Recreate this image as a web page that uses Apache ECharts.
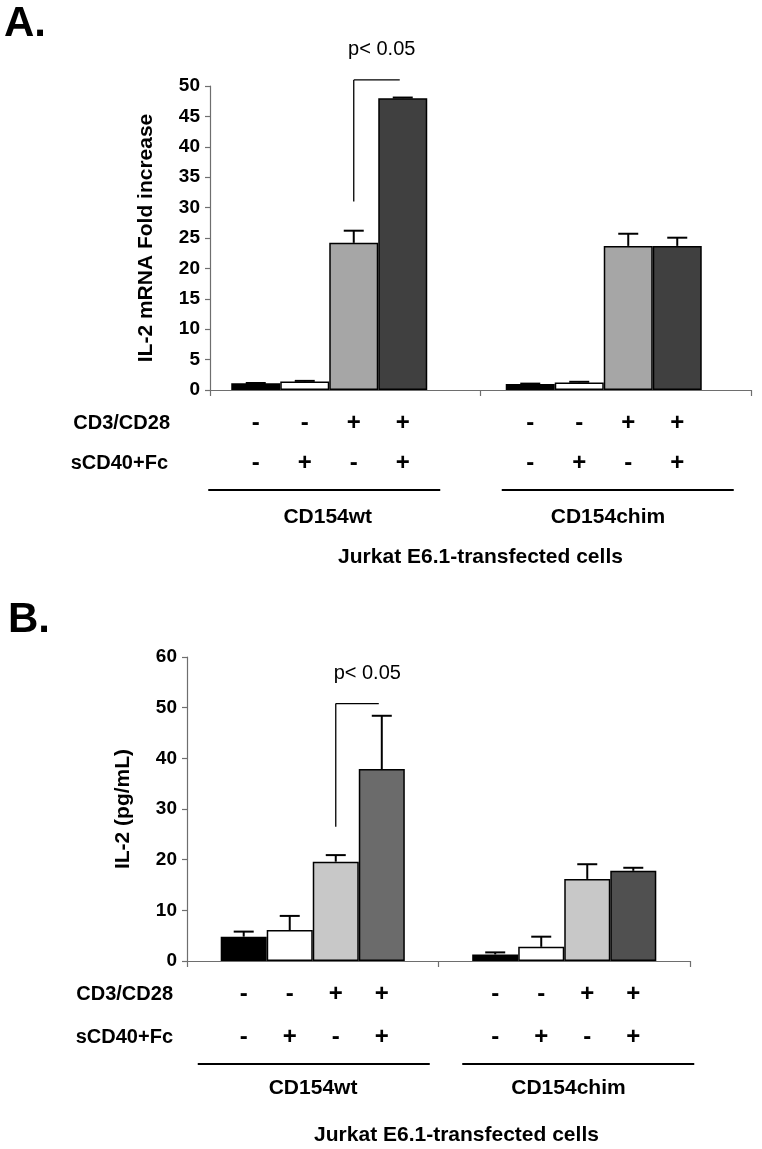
<!DOCTYPE html>
<html>
<head>
<meta charset="utf-8">
<script src="https://cdn.jsdelivr.net/npm/echarts@6/dist/echarts.min.js"></script>
<style>
html,body{margin:0;padding:0;background:#fff;}
#chart{width:762px;height:1149px;}
</style>
</head>
<body>
<div id="chart"></div>
<script>
// ---- data ----
const groups = ['CD154wt', 'CD154chim'];
const cd3Signs = ['-', '-', '+', '+'];
const sCD40Signs = ['-', '+', '-', '+'];
const rowLabels = ['CD3/CD28', 'sCD40+Fc'];
const xTitle = 'Jurkat E6.1-transfected cells';

// Panel A: IL-2 mRNA fold increase (mean per group), SD (upper error)
const mrnaNeg = [1.1, 1.0];
const mrnaSCD40 = [1.4, 1.25];
const mrnaCD3 = [24.2, 23.7];
const mrnaBoth = [48.0, 23.7];
const mrnaNegSD = [0.05, 0.05];
const mrnaSCD40SD = [0.1, 0.1];
const mrnaCD3SD = [2.0, 2.0];
const mrnaBothSD = [0.1, 1.35];
const bracketA = [31, 51];
const pLevelA = 56;
const yTicksA = [0, 50, 5];

// Panel B: IL-2 pg/mL
const il2Neg = [4.8, 1.3];
const il2SCD40 = [6.1, 2.8];
const il2CD3 = [19.6, 16.2];
const il2Both = [37.9, 17.8];
const il2NegSD = [1.0, 0.4];
const il2SCD40SD = [2.8, 2.0];
const il2CD3SD = [1.3, 2.9];
const il2BothSD = [10.5, 0.6];
const bracketB = [26.5, 50.8];
const pLevelB = 56.8;
const yTicksB = [0, 60, 10];

const pText = 'p< 0.05';

// ---- styles ----
const FONT = '"Liberation Sans", Arial, Helvetica, sans-serif';
const gapA = 0.286, gapB = 0.268;
const colorsA = ['#000000', '#ffffff', '#a6a6a6', '#404040'];
const colorsB = ['#000000', '#ffffff', '#c8c8c8', '#6b6b6b'];
const colorBchimDark = '#505050';

function barSeries(vals, color, xi, yi, gap, perItemColors) {
  return {
    type: 'bar', xAxisIndex: xi, yAxisIndex: yi,
    barGap: '0%', barCategoryGap: (gap * 100) + '%',
    data: vals.map((v, i) => perItemColors && perItemColors[i]
      ? {value: v, itemStyle: {color: perItemColors[i]}} : v),
    itemStyle: {color: color, borderColor: '#000', borderWidth: 1.5},
    emphasis: {disabled: true}, silent: true, z: 2
  };
}

function errData(means, sds) {
  const out = [];
  means.forEach((m, s) => m.forEach((v, g) => out.push([g, s, v, v + sds[s][g]])));
  return out;
}

function errSeries(data, xi, yi, gap) {
  return {
    type: 'custom', xAxisIndex: xi, yAxisIndex: yi, silent: true, z: 5,
    data: data,
    renderItem: function (params, api) {
      const g = api.value(0), s = api.value(1);
      const band = api.size([1, 0])[0];
      const barW = band * (1 - gap) / 4;
      const p0 = api.coord([g, api.value(2)]);
      const p1 = api.coord([g, api.value(3)]);
      const x = p0[0] + (s - 1.5) * barW;
      const st = {stroke: '#000', lineWidth: 2};
      return {type: 'group', children: [
        {type: 'line', shape: {x1: x, y1: p0[1], x2: x, y2: p1[1]}, style: st},
        {type: 'line', shape: {x1: x - 10, y1: p1[1], x2: x + 10, y2: p1[1]}, style: st}
      ]};
    }
  };
}

function bracketSeries(br, pLevel, xi, yi, gap, textShift) {
  return {
    type: 'custom', xAxisIndex: xi, yAxisIndex: yi, silent: true, z: 6,
    data: [[0, br[0], br[1], pLevel]],
    renderItem: function (params, api) {
      const g = api.value(0);
      const band = api.size([1, 0])[0];
      const barW = band * (1 - gap) / 4;
      const lo = api.coord([g, api.value(1)]);
      const hi = api.coord([g, api.value(2)]);
      const pt = api.coord([g, api.value(3)]);
      const xa = lo[0] + 0.5 * barW;
      const xb = lo[0] + 1.5 * barW - 3;
      const st = {stroke: '#000', lineWidth: 1.3};
      return {type: 'group', children: [
        {type: 'line', shape: {x1: xa, y1: lo[1], x2: xa, y2: hi[1]}, style: st},
        {type: 'line', shape: {x1: xa, y1: hi[1], x2: xb, y2: hi[1]}, style: st},
        {type: 'text', x: (xa + xb) / 2 + textShift, y: pt[1],
          style: {text: pText, fill: '#000', font: '20px ' + FONT,
            align: 'center', verticalAlign: 'middle', textAlign: 'center', textVerticalAlign: 'middle'}}
      ]};
    }
  };
}

function decoSeries(xi, yi, gap, rows, lineShift, lineHalf) {
  return {
    type: 'custom', xAxisIndex: xi, yAxisIndex: yi, silent: true, z: 6, clip: false,
    data: groups.map((g, i) => [i, 0]),
    renderItem: function (params, api) {
      const g = api.value(0);
      const base = api.coord([g, 0]);
      const band = api.size([1, 0])[0];
      const barW = band * (1 - gap) / 4;
      const ch = [];
      const signFont = 'bold 24px ' + FONT;
      for (let s = 0; s < 4; s++) {
        const x = base[0] + (s - 1.5) * barW;
        ch.push({type: 'text', x: x, y: base[1] + rows[0], style: {text: cd3Signs[s], fill: '#000', font: signFont,
          align: 'center', verticalAlign: 'middle', textAlign: 'center', textVerticalAlign: 'middle'}});
        ch.push({type: 'text', x: x, y: base[1] + rows[1], style: {text: sCD40Signs[s], fill: '#000', font: signFont,
          align: 'center', verticalAlign: 'middle', textAlign: 'center', textVerticalAlign: 'middle'}});
      }
      const cx = base[0] + lineShift[g];
      ch.push({type: 'line', shape: {x1: cx - lineHalf, y1: base[1] + rows[2], x2: cx + lineHalf, y2: base[1] + rows[2]},
        style: {stroke: '#000', lineWidth: 2}});
      ch.push({type: 'text', x: base[0] + lineShift[g] * 0.3, y: base[1] + rows[3], style: {text: groups[g], fill: '#000',
        font: 'bold 21px ' + FONT, align: 'center', verticalAlign: 'middle', textAlign: 'center', textVerticalAlign: 'middle'}});
      return {type: 'group', children: ch};
    }
  };
}

const axisGray = '#6e6e6e';
function valueAxis(gi, ticks, name, nameGap, show) {
  return {
    gridIndex: gi, type: 'value', min: ticks[0], max: ticks[1], interval: ticks[2],
    show: show,
    axisLine: {show: true, lineStyle: {color: axisGray, width: 1.2}},
    axisTick: {show: true, inside: false, length: 5, lineStyle: {color: axisGray, width: 1.2}},
    axisLabel: {color: '#000', fontFamily: FONT, fontWeight: 'bold', fontSize: 19, margin: 10},
    splitLine: {show: false},
    name: name, nameLocation: 'middle', nameRotate: 90, nameGap: nameGap,
    nameTextStyle: {color: '#000', fontFamily: FONT, fontWeight: 'bold', fontSize: 21}
  };
}

const chart = echarts.init(document.getElementById('chart'), null, {renderer: 'canvas'});
const option = {
  backgroundColor: '#fff',
  animation: false,
  grid: [
    {left: 192, top: 86, width: 549, height: 304, outerBoundsMode: 'none', containLabel: false},
    {left: 210, top: 86, width: 541, height: 304, outerBoundsMode: 'none', containLabel: false},
    {left: 187, top: 657, width: 503, height: 304, outerBoundsMode: 'none', containLabel: false}
  ],
  xAxis: [
    {gridIndex: 0, type: 'category', data: groups, show: false},
    {gridIndex: 1, type: 'category', data: groups,
      axisLine: {show: true, lineStyle: {color: axisGray, width: 1.2}},
      axisTick: {show: true, length: 6, lineStyle: {color: axisGray, width: 1.2}},
      axisLabel: {show: false},
      name: xTitle, nameLocation: 'middle', nameGap: 157,
      nameTextStyle: {color: '#000', fontFamily: FONT, fontWeight: 'bold', fontSize: 21}},
    {gridIndex: 2, type: 'category', data: groups,
      axisLine: {show: true, lineStyle: {color: axisGray, width: 1.2}},
      axisTick: {show: true, length: 6, lineStyle: {color: axisGray, width: 1.2}},
      axisLabel: {show: false},
      name: xTitle, nameLocation: 'middle', nameGap: 164,
      nameTextStyle: {color: '#000', fontFamily: FONT, fontWeight: 'bold', fontSize: 21, padding: [0, 0, 0, 36]}}
  ],
  yAxis: [
    valueAxis(0, yTicksA, '', 0, false),
    valueAxis(1, yTicksA, 'IL-2 mRNA Fold increase', 53, true),
    valueAxis(2, yTicksB, 'IL-2 (pg/mL)', 53, true)
  ],
  graphic: [
    {type: 'text', left: 4, top: 3, style: {text: 'A.', fill: '#000', font: 'bold 42px ' + FONT}},
    {type: 'text', left: 8, top: 599, style: {text: 'B.', fill: '#000', font: 'bold 42px ' + FONT}},
    {type: 'text', x: 170, y: 423, style: {text: rowLabels[0], fill: '#000', font: 'bold 20px ' + FONT, align: 'right', verticalAlign: 'middle', textAlign: 'right', textVerticalAlign: 'middle'}},
    {type: 'text', x: 168, y: 463, style: {text: rowLabels[1], fill: '#000', font: 'bold 20px ' + FONT, align: 'right', verticalAlign: 'middle', textAlign: 'right', textVerticalAlign: 'middle'}},
    {type: 'text', x: 173, y: 994, style: {text: rowLabels[0], fill: '#000', font: 'bold 20px ' + FONT, align: 'right', verticalAlign: 'middle', textAlign: 'right', textVerticalAlign: 'middle'}},
    {type: 'text', x: 173, y: 1037, style: {text: rowLabels[1], fill: '#000', font: 'bold 20px ' + FONT, align: 'right', verticalAlign: 'middle', textAlign: 'right', textVerticalAlign: 'middle'}}
  ],
  series: [
    barSeries(mrnaNeg, colorsA[0], 0, 0, gapA),
    barSeries(mrnaSCD40, colorsA[1], 0, 0, gapA),
    barSeries(mrnaCD3, colorsA[2], 0, 0, gapA),
    barSeries(mrnaBoth, colorsA[3], 0, 0, gapA),
    errSeries(errData([mrnaNeg, mrnaSCD40, mrnaCD3, mrnaBoth], [mrnaNegSD, mrnaSCD40SD, mrnaCD3SD, mrnaBothSD]), 0, 0, gapA),
    bracketSeries(bracketA, pLevelA, 0, 0, gapA, 5),
    decoSeries(0, 0, gapA, [33, 73, 100, 127], [-5, 14], 116),

    barSeries(il2Neg, colorsB[0], 2, 2, gapB),
    barSeries(il2SCD40, colorsB[1], 2, 2, gapB),
    barSeries(il2CD3, colorsB[2], 2, 2, gapB),
    barSeries(il2Both, colorsB[3], 2, 2, gapB, [null, colorBchimDark]),
    errSeries(errData([il2Neg, il2SCD40, il2CD3, il2Both], [il2NegSD, il2SCD40SD, il2CD3SD, il2BothSD]), 2, 2, gapB),
    bracketSeries(bracketB, pLevelB, 2, 2, gapB, 10),
    decoSeries(2, 2, gapB, [33, 76, 103, 127], [1, 14], 116)
  ]
};
chart.setOption(option);
</script>
</body>
</html>
